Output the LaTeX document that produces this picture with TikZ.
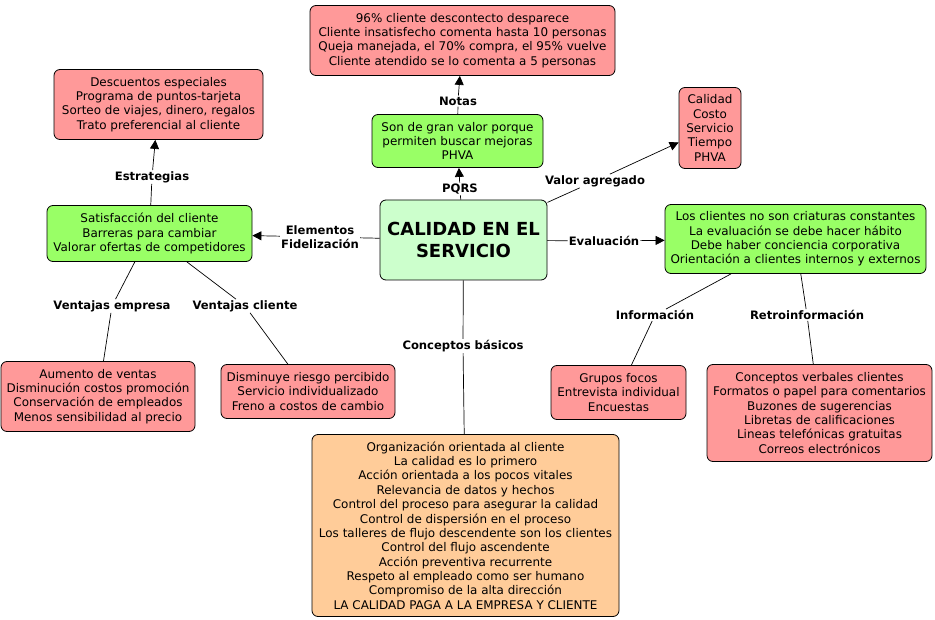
\documentclass[tikz,border=0pt]{standalone}
\usepackage{fontspec}
\setmainfont{DejaVu Sans}
\usetikzlibrary{arrows.meta}
\definecolor{pinkc}{RGB}{255,153,153}
\definecolor{greenc}{RGB}{153,255,102}
\definecolor{lgreenc}{RGB}{204,255,204}
\definecolor{orangec}{RGB}{255,204,153}
\newcommand{\bodyfont}{\fontsize{11.95}{14.35}\selectfont}
\newcommand{\lblfont}{\fontsize{11.6}{14}\selectfont\bfseries}
\tikzset{
  box/.style={draw=black, rounded corners=6pt, line width=0.8pt, align=center, inner sep=1pt, font=\bodyfont},
  pinkbox/.style={box, fill=pinkc},
  greenbox/.style={box, fill=greenc},
  orangebox/.style={box, fill=orangec},
  lbl/.style={font=\lblfont, inner sep=1pt, align=center},
  conn/.style={line width=0.7pt, draw=black},
  arr/.style={conn, -{Triangle[length=9pt,width=9pt]}},
}
\begin{document}
\begin{tikzpicture}[x=1pt,y=-1pt]
\fill[white] (0,0) rectangle (935,620);
\useasboundingbox (0,0) rectangle (935,620);

% boxes
\node[pinkbox, minimum width=305pt, minimum height=70pt] (notas) at (462.5,40.5)
  {96\% cliente descontecto desparece\\Cliente insatisfecho comenta hasta 10 personas\\Queja manejada, el 70\% compra, el 95\% vuelve\\Cliente atendido se lo comenta a 5 personas};
\node[pinkbox, minimum width=209pt, minimum height=70pt] (desc) at (158.5,104.5)
  {Descuentos especiales\\Programa de puntos-tarjeta\\Sorteo de viajes, dinero, regalos\\Trato preferencial al cliente};
\node[greenbox, minimum width=171pt, minimum height=53pt] (son) at (457.5,141)
  {Son de gran valor porque\\permiten buscar mejoras\\PHVA};
\node[pinkbox, minimum width=62pt, minimum height=81pt] (calid) at (710,128)
  {Calidad\\Costo\\Servicio\\Tiempo\\PHVA};
\node[box, fill=lgreenc, minimum width=167pt, minimum height=80pt, font=\fontsize{18}{22}\selectfont\bfseries] (central) at (463.5,240)
  {CALIDAD EN EL\\SERVICIO};
\node[greenbox, minimum width=205pt, minimum height=56pt] (satis) at (149.5,233.5)
  {Satisfacción del cliente\\Barreras para cambiar\\Valorar ofertas de competidores};
\node[greenbox, minimum width=261pt, minimum height=69pt] (loscl) at (795.5,239)
  {Los clientes no son criaturas constantes\\La evaluación se debe hacer hábito\\Debe haber conciencia corporativa\\Orientación a clientes internos y externos};
\node[pinkbox, minimum width=194pt, minimum height=70pt] (aument) at (98,396.5)
  {Aumento de ventas\\Disminución costos promoción\\Conservación de empleados\\Menos sensibilidad al precio};
\node[pinkbox, minimum width=174pt, minimum height=54pt] (dismin) at (308,391.5)
  {Disminuye riesgo percibido\\Servicio individualizado\\Freno a costos de cambio};
\node[pinkbox, minimum width=135pt, minimum height=54pt] (grupos) at (618.5,392.5)
  {Grupos focos\\Entrevista individual\\Encuestas};
\node[pinkbox, minimum width=225pt, minimum height=97pt] (concv) at (819.5,413)
  {Conceptos verbales clientes\\Formatos o papel para comentarios\\Buzones de sugerencias\\Libretas de calificaciones\\Lineas telefónicas gratuitas\\Correos electrónicos};
\node[orangebox, minimum width=307pt, minimum height=182pt] (org) at (465.5,525.5)
  {Organización orientada al cliente\\La calidad es lo primero\\Acción orientada a los pocos vitales\\Relevancia de datos y hechos\\Control del proceso para asegurar la calidad\\Control de dispersión en el proceso\\Los talleres de flujo descendente son los clientes\\Control del flujo ascendente\\Acción preventiva recurrente\\Respeto al empleado como ser humano\\Compromiso de la alta dirección\\LA CALIDAD PAGA A LA EMPRESA Y CLIENTE};

% labels
\node[lbl] (lnotas) at (458,101) {Notas};
\node[lbl] (lpqrs) at (460,189) {PQRS};
\node[lbl] (lestr) at (152,177) {Estrategias};
\node[lbl] (lvalor) at (595,181) {Valor agregado};
\node[lbl] (lelem) at (320,237) {Elementos\\Fidelización};
\node[lbl] (leval) at (604,241) {Evaluación};
\node[lbl] (lvemp) at (112,306) {Ventajas empresa};
\node[lbl] (lvcli) at (245,306) {Ventajas cliente};
\node[lbl] (lconc) at (463,346) {Conceptos básicos};
\node[lbl] (linfo) at (655,315) {Información};
\node[lbl] (lretro) at (807,315) {Retroinformación};

% connectors
\draw[conn] (central) -- (lpqrs);  \draw[arr] (lpqrs) -- (son);
\draw[conn] (son) -- (lnotas);     \draw[arr] (lnotas) -- (notas);
\draw[conn] (central) -- (lelem);  \draw[arr] (lelem) -- (satis);
\draw[conn] (satis) -- (lestr);    \draw[arr] (lestr) -- (desc);
\draw[conn] (central) -- (lvalor); \draw[arr] (lvalor) -- (calid);
\draw[conn] (central) -- (leval);  \draw[arr] (leval) -- (loscl);
\draw[conn] (satis) -- (lvemp);    \draw[conn] (lvemp) -- (aument);
\draw[conn] (satis) -- (lvcli);    \draw[conn] (lvcli) -- (dismin);
\draw[conn] (central) -- (lconc);  \draw[conn] (lconc) -- (org);
\draw[conn] (loscl) -- (linfo);    \draw[conn] (linfo) -- (grupos);
\draw[conn] (loscl) -- (lretro);   \draw[conn] (lretro) -- (concv);
\end{tikzpicture}
\end{document}
